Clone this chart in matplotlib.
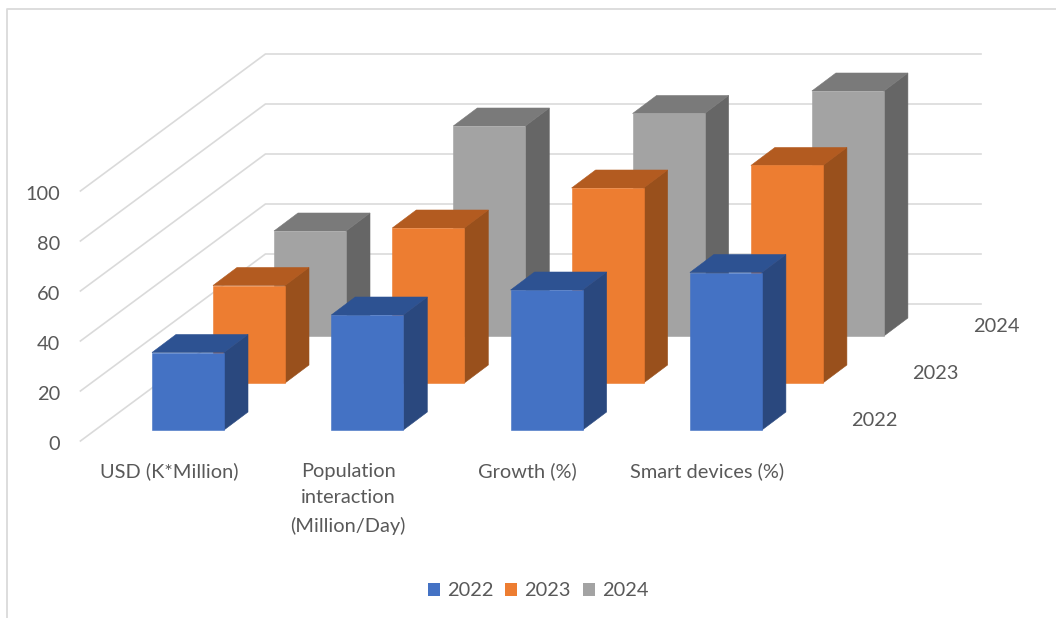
import matplotlib.pyplot as plt
from matplotlib.patches import Patch, Polygon, Rectangle

categories = ['USD (K*Million)', 'Population\ninteraction\n(Million/Day)', 'Growth (%)', 'Smart devices (%)']
years = ['2022', '2023', '2024']
v2022 = [31, 46, 56, 63]
v2023 = [39, 62, 78, 87]
v2024 = [42, 84, 89, 98]
series = [v2022, v2023, v2024]
yticks = [0, 20, 40, 60, 80, 100]

colors = ['#4472C4', '#ED7D31', '#A3A3A3']
tops = ['#2D5292', '#B35B20', '#7A7A7A']
sides = ['#2A487E', '#99501C', '#666666']
text_color = '#595959'
grid_color = '#DADADA'

# one x unit is a category step, one y unit is a value unit, the rest is the oblique shear
XPX = 179.3
YPX = 2.5
bar_w = 72 / XPX
side_x, side_y = 24 / XPX, 18 / YPX
step_x, step_y = 61 / XPX, 47 / YPX

plt.rcParams['font.family'] = 'Lato'
fig = plt.figure(figsize=(10.56, 6.18), dpi=100)
ax = fig.add_axes([0, 0, 1, 1])
ax.set_xlim(-188 / XPX, (1056 - 188) / XPX)
ax.set_ylim(-(618 - 430) / YPX, 430 / YPX)
ax.axis('off')


def place(x, value, depth=0):
    return x + depth * step_x, value + depth * step_y


# chart border, only top and left show in the picture
ax.plot([-181 / XPX, -181 / XPX, 868 / XPX], [-75.2, 421 / YPX, 421 / YPX],
        color=grid_color, linewidth=1.3, zorder=0)

# walls
wall_x0, wall_y0 = -0.6, -4.4
wall_dx, wall_dy = 185 / XPX, 137 / YPX
wall_end = 793 / XPX
for v in yticks:
    ax.plot([wall_x0, wall_x0 + wall_dx, wall_end],
            [wall_y0 + v, wall_y0 + wall_dy + v, wall_y0 + wall_dy + v],
            color=grid_color, linewidth=1.2, zorder=1)
    ax.text(wall_x0 - 20 / XPX, wall_y0 + v - 1.4, str(v), ha='right', va='center',
            color=text_color, fontsize=14.4)

# bars, back row first so that the front rows cover it
z = 2
for d in [2, 1, 0]:
    for i, v in enumerate(series[d]):
        x0, y0 = place(i - bar_w / 2, 0, d)
        x1, y1 = x0 + bar_w, y0 + v
        ax.add_patch(Polygon([(x1, y0), (x1 + side_x, y0 + side_y), (x1 + side_x, y1 + side_y), (x1, y1)],
                             facecolor=sides[d], edgecolor=sides[d], linewidth=0.4, zorder=z))
        ax.add_patch(Polygon([(x0, y1), (x0 + side_x, y1 + side_y), (x1 + side_x, y1 + side_y), (x1, y1)],
                             facecolor=tops[d], edgecolor=tops[d], linewidth=0.4, zorder=z))
        ax.add_patch(Rectangle((x0, y0), bar_w, v, facecolor=colors[d], edgecolor=colors[d],
                               linewidth=0.4, zorder=z))
        z += 1

# category labels
for i, name in enumerate(categories):
    ax.text(i - 19 / XPX, -13, name, ha='center', va='top', color=text_color,
            fontsize=14.4, linespacing=1.71, multialignment='center')

# depth axis labels
for d, year in enumerate(years):
    x, y = place(3.83, 3.6, d)
    ax.text(x, y, year, ha='center', va='center', color=text_color, fontsize=14.4)

handles = [Patch(facecolor=c, edgecolor='none') for c in colors]
leg = ax.legend(handles, years, loc='center', bbox_to_anchor=(0.5095, 0.044), ncol=3, frameon=False,
                fontsize=14.4, handlelength=0.6, handleheight=0.6, handletextpad=0.35,
                columnspacing=0.6, labelcolor=text_color)

fig.savefig('out.png', dpi=100)
